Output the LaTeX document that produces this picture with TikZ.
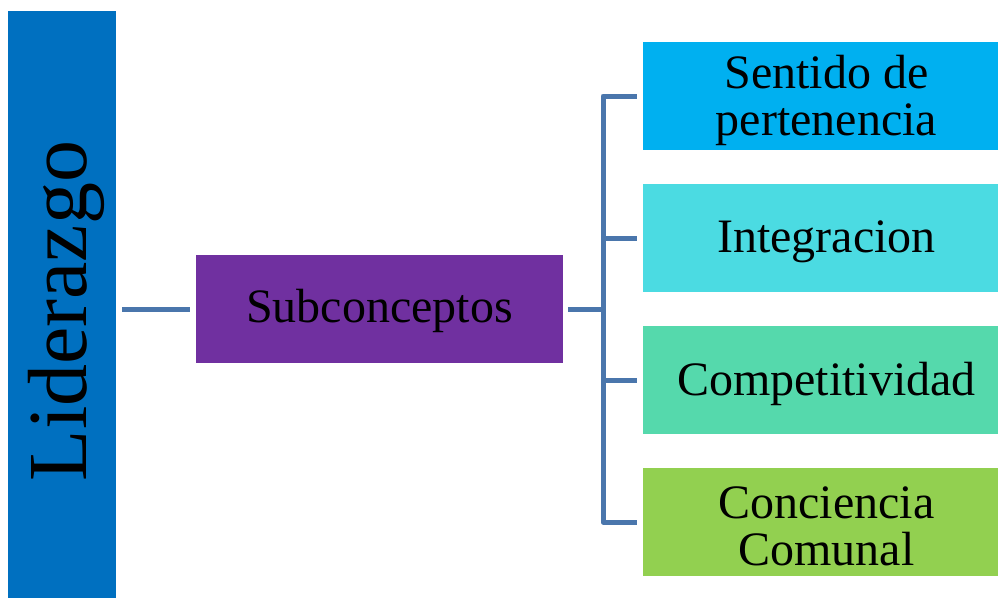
\documentclass[tikz,border=0pt]{standalone}
\usepackage{fontspec}
\setmainfont{Liberation Serif}
\definecolor{lidblue}{HTML}{0070C0}
\definecolor{subpurple}{HTML}{7030A0}
\definecolor{c1}{HTML}{00B0F0}
\definecolor{c2}{HTML}{4BDBE2}
\definecolor{c3}{HTML}{55D9AC}
\definecolor{c4}{HTML}{92D050}
\definecolor{linkblue}{HTML}{4A76AC}
\begin{document}
\begin{tikzpicture}[x=1pt,y=-1pt,
  fillbox/.style={rectangle, inner sep=0pt},
  rbox/.style={fillbox, minimum width=355pt, minimum height=108pt},
  txt/.style={inner sep=0pt, text=black, align=center,
    font=\fontsize{48}{47}\selectfont},
  link/.style={draw=linkblue, line width=5pt, line join=round}]
\useasboundingbox (0,0) rectangle (998,598);
\node[fillbox, fill=lidblue, minimum width=108pt, minimum height=587pt]
  (lid) at (62,304.5) {};
\node[rotate=90, text=black, inner sep=0pt, font=\fontsize{84}{84}\selectfont] (lidt) at (66,311) {Liderazgo};
\node[fillbox, fill=subpurple, minimum width=367pt, minimum height=108pt] (sub) at (379.5,309) {};
\node[txt] (subt) at ([shift={(0,2)}]sub.center) {Subconceptos};
\node[rbox, fill=c1] (b1) at (820.5,96) {};
\node[rbox, fill=c2] (b2) at (820.5,238) {};
\node[rbox, fill=c3] (b3) at (820.5,380) {};
\node[rbox, fill=c4] (b4) at (820.5,522) {};
\node[txt] (b1t) at ([shift={(6,4)}]b1.center) {Sentido de\\pertenencia};
\node[txt] (b2t) at ([shift={(6,4)}]b2.center) {Integracion};
\node[txt] (b3t) at ([shift={(6,4)}]b3.center) {Competitividad};
\node[txt] (b4t) at ([shift={(6,4)}]b4.center) {Conciencia\\Comunal};
\coordinate (bx) at (603,309);
\draw[link, shorten <=6pt, shorten >=6pt] (lid.east |- sub.west) -- (sub.west);
\draw[link, shorten <=5pt] (sub.east) -- (bx);
\draw[link, shorten >=6pt] (bx) |- (b1.west);
\draw[link, shorten >=6pt] (bx) |- (b2.west);
\draw[link, shorten >=6pt] (bx) |- (b3.west);
\draw[link, shorten >=6pt] (bx) |- (b4.west);
\end{tikzpicture}
\end{document}
